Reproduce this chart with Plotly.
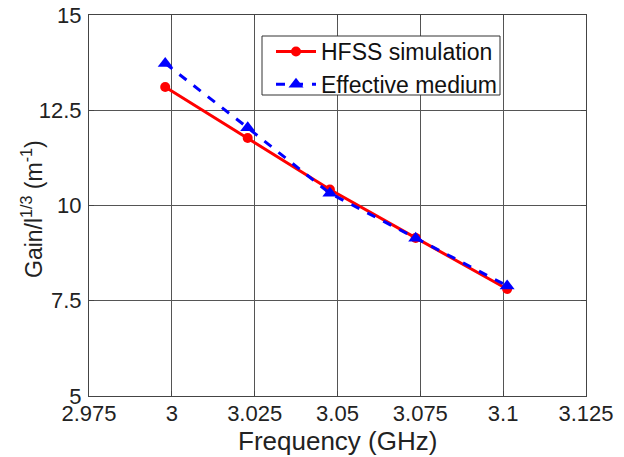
import plotly.graph_objects as go

freq_hfss = [2.998, 3.0229, 3.0477, 3.0736, 3.1012]
gain_hfss = [13.11, 11.77, 10.42, 9.15, 7.81]
freq_eff = [2.998, 3.0229, 3.0477, 3.0736, 3.1012]
gain_eff = [13.73, 12.04, 10.32, 9.14, 7.89]

x_ticks = [2.975, 3.0, 3.025, 3.05, 3.075, 3.1, 3.125]
x_tick_labels = ["2.975", "3", "3.025", "3.05", "3.075", "3.1", "3.125"]
y_ticks = [5, 7.5, 10, 12.5, 15]
y_tick_labels = ["5", "7.5", "10", "12.5", "15"]

x_title = "Frequency (GHz)"
y_title = "Gain/l<sup>1/3</sup> (m<sup>-1</sup>)"

W, H = 624, 457
L, R, T, B = 89, 38, 15, 61
PW, PH = W - L - R, H - T - B


def px_to_paper(px, py):
    return (px - L) / PW, 1 - (py - T) / PH


fig = go.Figure()
fig.add_trace(go.Scatter(
    x=freq_hfss, y=gain_hfss, mode="lines+markers", name="HFSS simulation",
    line=dict(color="#ff0000", width=3),
    marker=dict(symbol="circle", size=10, color="#ff0000"),
))
fig.add_trace(go.Scatter(
    x=freq_eff, y=gain_eff, mode="lines+markers", name="Effective medium",
    line=dict(color="#0000ff", width=3, dash="dash"),
    marker=dict(symbol="triangle-up", size=13, color="#0000ff"),
))

font = "Arial, Liberation Sans, sans-serif"

# legend frame
lx0, ly1 = px_to_paper(262, 36)
lx1, ly0 = px_to_paper(500, 95)
fig.add_shape(type="rect", xref="paper", yref="paper",
              x0=lx0, x1=lx1, y0=ly0, y1=ly1,
              fillcolor="white", line=dict(color="#333333", width=1),
              layer="above")

xt_x, xt_y = px_to_paper(337, 441)
yt_x, yt_y = px_to_paper(32, 209)
fig.add_annotation(text=x_title, xref="paper", yref="paper", x=xt_x, y=xt_y,
                   xanchor="center", yanchor="middle", showarrow=False,
                   font=dict(family=font, size=26, color="#222222"))
fig.add_annotation(text=y_title, xref="paper", yref="paper", x=yt_x, y=yt_y,
                   xanchor="center", yanchor="middle", showarrow=False, textangle=-90,
                   font=dict(family=font, size=23, color="#222222"))

leg_x, leg_y = px_to_paper(271, 30)
fig.update_layout(
    width=W, height=H,
    margin=dict(l=L, r=R, t=T, b=B),
    paper_bgcolor="white", plot_bgcolor="white",
    font=dict(family=font, size=22, color="#222222"),
    showlegend=True,
    legend=dict(
        x=leg_x, y=leg_y, xanchor="left", yanchor="top",
        bgcolor="rgba(0,0,0,0)", borderwidth=0,
        font=dict(family=font, size=23, color="#111111"),
        tracegroupgap=0, itemwidth=40,
    ),
    xaxis=dict(
        range=[2.975, 3.125], tickvals=x_ticks, ticktext=x_tick_labels,
        showgrid=True, gridcolor="#555555", gridwidth=1,
        showline=True, linecolor="#444444", linewidth=1, mirror="ticks",
        ticks="inside", ticklen=5, tickcolor="#444444",
        zeroline=False, automargin=False, ticklabelstandoff=-2,
    ),
    yaxis=dict(
        range=[5, 15], tickvals=y_ticks, ticktext=y_tick_labels,
        showgrid=True, gridcolor="#555555", gridwidth=1,
        showline=True, linecolor="#444444", linewidth=1, mirror="ticks",
        ticks="inside", ticklen=5, tickcolor="#444444",
        zeroline=False, automargin=False, ticklabelstandoff=2,
    ),
)

fig.write_html("out.html", config={"displayModeBar": False},
               post_script="document.body.style.margin='0px';")
